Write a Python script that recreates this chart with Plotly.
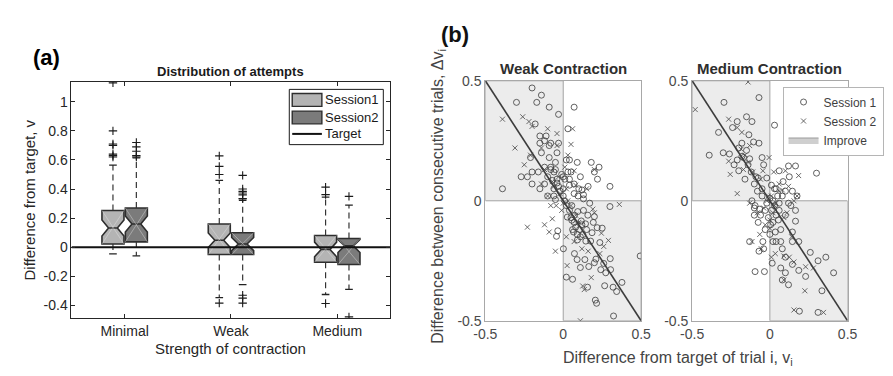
import plotly.graph_objects as go

W, H = 893, 376
FONT = "Liberation Sans, Arial, sans-serif"

# ---------------- Panel (a) data: notched box statistics ----------------
categories = ["Minimal", "Weak", "Medium"]
cat_pos = [1, 2, 3]

s1_q1 = [0.022, -0.050, -0.103]
s1_med = [0.132, 0.048, -0.015]
s1_q3 = [0.253, 0.160, 0.081]
s1_lo = [-0.046, -0.347, -0.325]
s1_hi = [0.565, 0.460, 0.345]
s1_notch = [0.055, 0.050, 0.050]
s1_out = [[0.62, 0.63, 0.64, 0.70, 0.71, 0.80, 1.13],
          [0.50, 0.556, 0.628, -0.384],
          [0.362, 0.413, -0.387]]

s2_q1 = [0.037, -0.050, -0.119]
s2_med = [0.160, 0.022, 0.009]
s2_q3 = [0.270, 0.100, 0.060]
s2_lo = [-0.059, -0.257, -0.290]
s2_hi = [0.615, 0.323, 0.290]
s2_notch = [0.055, 0.045, 0.045]
s2_out = [[0.62, 0.63, 0.66, 0.69, 0.72],
          [0.334, 0.36, 0.373, 0.384, 0.40, 0.494, -0.33, -0.35, -0.384],
          [0.35, -0.479]]

target_value = 0.0
a_yticks = [-0.4, -0.2, 0, 0.2, 0.4, 0.6, 0.8, 1]
a_yticktext = ["-0.4", "-0.2", "0", "0.2", "0.4", "0.6", "0.8", "1"]

# ---------------- Panel (b) data: scatter ----------------
weak_s1_x = [-0.20, -0.30, -0.14, -0.17, -0.09, -0.03, 0.07, -0.18, -0.15, 0.03,
             -0.15, -0.08, -0.03, -0.12, -0.04, -0.09, -0.21, 0.02, 0.04, 0.09,
             0.18, 0.23, 0.20, -0.27, -0.23, -0.20, -0.16, -0.20, -0.08, -0.05,
             -0.01, 0.01, 0.05, 0.11, 0.22, 0.30, 0.16, 0.12, -0.39, -0.15,
             -0.12, -0.07, -0.04, -0.06, 0.00, 0.04, 0.07, 0.095, 0.13, 0.13,
             -0.10, -0.05, 0.17, 0.30, 0.055, 0.093, 0.072, 0.158, 0.20, 0.026,
             0.055, 0.116, 0.143, 0.193, 0.218, 0.25, 0.185, 0.105, 0.126, 0.066,
             0.091, 0.145, 0.176, 0.235, -0.035, -0.043, 0.001, 0.072, 0.089, 0.139,
             0.164, 0.21, 0.20, 0.26, 0.302, 0.241, 0.273, 0.304, 0.11, 0.02,
             0.06, 0.156, 0.266, 0.32, 0.377, 0.343, 0.206, 0.214, 0.323, 0.494,
             -0.08, -0.06, -0.04, -0.03, -0.02, 0.00, 0.01, 0.02, 0.04, 0.05,
             0.07, 0.08, 0.09, 0.11, 0.06, -0.10, -0.12, -0.05, 0.03, 0.00,
             0.07, 0.10, -0.06, 0.12, 0.13, 0.15, 0.04, -0.09, -0.11, -0.14]
weak_s1_y = [0.47, 0.41, 0.44, 0.41, 0.39, 0.36, 0.39, 0.32, 0.27, 0.30,
             0.24, 0.24, 0.24, 0.25, 0.20, 0.18, 0.18, 0.17, 0.17, 0.16,
             0.16, 0.14, 0.12, 0.10, 0.10, 0.12, 0.12, 0.07, 0.13, 0.13,
             0.11, 0.09, 0.12, 0.10, 0.09, 0.06, 0.06, 0.045, 0.05, 0.05,
             0.07, 0.085, 0.074, 0.05, 0.05, 0.065, 0.07, 0.02, 0.025, 0.008,
             0.02, 0.005, -0.01, -0.024, -0.02, -0.045, -0.06, -0.06, -0.066, -0.068,
             -0.081, -0.084, -0.096, -0.09, -0.112, -0.114, -0.133, -0.12, -0.141, -0.13,
             -0.163, -0.168, -0.168, -0.174, -0.125, -0.148, -0.20, -0.22, -0.245, -0.245,
             -0.274, -0.243, -0.258, -0.261, -0.241, -0.287, -0.30, -0.287, -0.278, -0.318,
             -0.327, -0.36, -0.354, -0.36, -0.34, -0.378, -0.414, -0.427, -0.48, -0.23,
             0.14, 0.12, 0.09, 0.06, 0.04, 0.02, 0.00, -0.02, -0.04, -0.07,
             -0.09, -0.11, -0.14, -0.15, -0.12, 0.10, 0.14, 0.16, 0.12, 0.10,
             0.03, 0.05, 0.02, -0.10, -0.04, -0.12, 0.09, 0.23, 0.27, 0.20]

weak_s2_x = [-0.04, -0.39, -0.26, -0.22, -0.20, -0.31, -0.04, 0.05, 0.06, -0.14,
             -0.25, -0.21, 0.20, 0.01, -0.14, -0.07, -0.10, -0.02, 0.08, 0.07,
             0.03, 0.00, -0.045, -0.08, -0.01, -0.07, 0.36, -0.23, -0.12, -0.09,
             -0.05, 0.02, 0.07, 0.19, 0.20, 0.245, 0.29, 0.26, 0.18, 0.125,
             0.135, 0.025, 0.11, 0.235, 0.09,
             -0.03, 0.02, 0.05, -0.06, 0.08, 0.10, 0.12, 0.16, -0.12, 0.15, 0.03, -0.10]
weak_s2_y = [0.28, 0.34, 0.35, 0.33, 0.31, 0.22, 0.23, 0.235, 0.30, 0.22,
             0.15, 0.19, 0.13, 0.14, 0.07, 0.08, 0.02, 0.03, 0.065, 0.125,
             0.00, -0.01, -0.02, -0.02, -0.04, -0.075, -0.015, -0.11, -0.10, -0.13,
             -0.21, -0.15, -0.17, -0.035, -0.05, -0.135, -0.165, -0.19, -0.32, -0.355,
             -0.37, -0.27, -0.50, -0.22, -0.095,
             0.10, 0.05, -0.02, 0.06, -0.06, -0.09, -0.20, -0.21, 0.13, 0.05, 0.19, 0.30]

med_s1_x = [-0.07, -0.295, -0.15, -0.21, -0.115, 0.03, -0.24, -0.33, -0.135, -0.105,
            -0.07, -0.39, -0.30, -0.26, -0.21, -0.18, -0.13, -0.05, -0.04, -0.20,
            -0.16, -0.10, -0.075, -0.02, 0.06, 0.12, 0.165, 0.125, 0.085, 0.30,
            0.01, 0.04, 0.145, 0.175, -0.05, -0.115, -0.095, -0.065, -0.03, 0.06,
            0.135, 0.165, 0.10, 0.055, 0.165, -0.075, -0.10, 0.005, 0.035, 0.145,
            0.186, 0.145, 0.07, 0.02, -0.045, -0.13, -0.07, -0.04, 0.08, 0.10,
            0.26, 0.36, 0.31, 0.015, 0.07, 0.145, 0.186, 0.23, 0.41, -0.095,
            -0.035, 0.10, 0.08, 0.12, 0.335, 0.19, 0.31,
            0.00, 0.02, 0.03, 0.01, -0.02, 0.05, 0.04, -0.01, 0.02, -0.03,
            0.00, 0.06, 0.08, -0.05, -0.08, 0.03, 0.10, 0.12, -0.06, -0.10,
            0.07, 0.04, -0.15, -0.17, -0.20, -0.12, -0.14, -0.09, -0.23, -0.18]
med_s1_y = [0.43, 0.41, 0.35, 0.33, 0.33, 0.315, 0.305, 0.285, 0.275, 0.245,
            0.24, 0.19, 0.20, 0.195, 0.17, 0.185, 0.175, 0.18, 0.15, 0.125,
            0.09, 0.07, 0.095, 0.095, 0.125, 0.145, 0.145, 0.10, 0.08, 0.115,
            0.065, 0.05, 0.04, 0.02, 0.02, 0.00, -0.02, -0.035, -0.04, -0.01,
            -0.02, -0.04, -0.06, -0.08, -0.085, -0.09, -0.06, -0.10, -0.13, -0.13,
            -0.17, -0.17, -0.17, -0.17, -0.17, -0.17, -0.21, -0.20, -0.20, -0.235,
            -0.215, -0.235, -0.25, -0.26, -0.28, -0.265, -0.29, -0.315, -0.30, -0.295,
            -0.295, -0.30, -0.33, -0.35, -0.375, -0.46, -0.465,
            0.01, 0.00, -0.02, -0.04, -0.01, 0.02, -0.06, -0.07, -0.09, -0.12,
            -0.14, -0.04, 0.02, 0.05, 0.04, 0.05, 0.04, -0.01, -0.06, -0.03,
            -0.12, -0.17, 0.21, 0.18, 0.22, 0.12, 0.15, 0.10, 0.15, 0.24]

med_s2_x = [-0.14, -0.48, -0.265, -0.21, -0.18, -0.185, -0.265, -0.255, -0.16, -0.21,
            -0.14, -0.005, -0.045, 0.025, 0.10, 0.185, 0.175, 0.155, -0.13, -0.01,
            0.03, 0.11, -0.03, 0.00, -0.065, -0.115, -0.055, 0.035, 0.01, 0.125,
            0.155, 0.23, 0.28, 0.09, 0.225, 0.155, 0.345, 0.06, 0.08,
            0.01, 0.04, -0.02, 0.02, -0.04, 0.06, -0.08, 0.00, -0.11, -0.17,
            -0.13, 0.09, 0.12, -0.06, 0.14, 0.09]
med_s2_y = [0.495, 0.38, 0.34, 0.305, 0.285, 0.215, 0.165, 0.11, 0.19, 0.03,
            0.16, 0.18, 0.125, 0.12, 0.125, 0.105, 0.02, 0.00, -0.01, 0.02,
            -0.02, -0.05, -0.10, -0.115, -0.14, -0.17, -0.20, -0.22, -0.235, -0.235,
            -0.255, -0.275, -0.28, -0.33, -0.375, -0.455, -0.465, 0.07, 0.045,
            0.02, -0.01, 0.00, -0.05, -0.03, 0.04, -0.05, -0.08, 0.12, 0.13,
            0.23, -0.07, 0.06, 0.09, -0.15, -0.23]

improve_x = [-0.5, 0, 0, -0.5, -0.5, None, 0, 0.5, 0.5, 0, 0]
improve_y = [0, 0, 0.5, 0.5, 0, None, -0.5, -0.5, 0, 0, -0.5]
diag_x = [-0.5, 0.5]
diag_y = [0.5, -0.5]
b_ticks = [-0.5, 0, 0.5]
b_ticktext = ["-0.5", "0", "0.5"]

# ---------------- styles ----------------
OFFSET = 0.11
BOXW = 0.207
CAPW = 0.036
S1_FILL = "#b4b4b4"
S2_FILL = "#7b7b7b"
EDGE = "#2e2e2e"


def px_x(px):
    return px / W


def px_y(py):
    return 1 - py / H


fig = go.Figure()


def add_session(name, sign, q1, med, q3, lo, hi, notch, outs, fill):
    pos = [c + sign * OFFSET for c in cat_pos]
    fig.add_trace(go.Box(
        x=pos, q1=q1, median=med, q3=q3, lowerfence=q1, upperfence=q3,
        notched=True, notchspan=notch, notchwidth=0.3, width=BOXW,
        fillcolor=fill, line=dict(color=EDGE, width=1.6), whiskerwidth=0,
        boxpoints=False, name=name, showlegend=False, hoverinfo="skip",
        xaxis="x", yaxis="y"))
    dx, dy = [], []
    for p, a, b in zip(pos, q1, q3):
        dx += [p - BOXW / 2, p + BOXW / 2, None, p - BOXW / 2, p + BOXW / 2, None]
        dy += [a, b, None, b, a, None]
    fig.add_trace(go.Scatter(x=dx, y=dy, mode="lines",
                             line=dict(color="rgba(235,235,235,0.5)", width=0.8),
                             showlegend=False, hoverinfo="skip", xaxis="x", yaxis="y"))
    wx, wy = [], []
    for p, a, b, l, h in zip(pos, q1, q3, lo, hi):
        wx += [p, p, None, p, p, None]
        wy += [b, h, None, a, l, None]
    fig.add_trace(go.Scatter(x=wx, y=wy, mode="lines",
                             line=dict(color="#333333", width=1.2, dash="6px,4px"),
                             showlegend=False, hoverinfo="skip", xaxis="x", yaxis="y"))
    cx, cy = [], []
    for p, l, h in zip(pos, lo, hi):
        cx += [p - CAPW, p + CAPW, None, p - CAPW, p + CAPW, None]
        cy += [h, h, None, l, l, None]
    fig.add_trace(go.Scatter(x=cx, y=cy, mode="lines",
                             line=dict(color="#222222", width=1.3),
                             showlegend=False, hoverinfo="skip", xaxis="x", yaxis="y"))
    ox, oy = [], []
    for p, vals in zip(pos, outs):
        ox += [p] * len(vals)
        oy += vals
    fig.add_trace(go.Scatter(x=ox, y=oy, mode="markers",
                             marker=dict(symbol="cross-thin-open", size=6, color="#1a1a1a",
                                         line=dict(color="#1a1a1a", width=1.1)),
                             showlegend=False, hoverinfo="skip", xaxis="x", yaxis="y"))


add_session("Session1", -1, s1_q1, s1_med, s1_q3, s1_lo, s1_hi, s1_notch, s1_out, S1_FILL)
add_session("Session2", 1, s2_q1, s2_med, s2_q3, s2_lo, s2_hi, s2_notch, s2_out, S2_FILL)

fig.add_trace(go.Scatter(x=[0.5, 3.5], y=[target_value, target_value], mode="lines",
                         line=dict(color="#111111", width=2.2), name="Target",
                         showlegend=False, hoverinfo="skip", xaxis="x", yaxis="y"))

# ---------------- Panel (b) ----------------
CIRC = "rgba(60,60,60,0.8)"
CROSS = "rgba(80,80,80,0.85)"
for i, (xa, ya, s1x, s1y, s2x, s2y) in enumerate([
        ("x2", "y2", weak_s1_x, weak_s1_y, weak_s2_x, weak_s2_y),
        ("x3", "y3", med_s1_x, med_s1_y, med_s2_x, med_s2_y)]):
    show = (i == 1)
    fig.add_trace(go.Scatter(x=improve_x, y=improve_y, mode="lines", fill="toself",
                             fillcolor="#ececec", line=dict(color="#a3a3a3", width=1),
                             name="Improve", showlegend=False,
                             hoverinfo="skip", xaxis=xa, yaxis=ya))
    fig.add_trace(go.Scatter(x=s1x, y=s1y, mode="markers", name="Session 1",
                             marker=dict(symbol="circle-open", size=6, color=CIRC,
                                         line=dict(color=CIRC, width=1)),
                             showlegend=show, legendrank=1, hoverinfo="skip",
                             xaxis=xa, yaxis=ya))
    fig.add_trace(go.Scatter(x=s2x, y=s2y, mode="markers", name="Session 2",
                             marker=dict(symbol="x-thin-open", size=5, color=CROSS,
                                         line=dict(color=CROSS, width=1)),
                             showlegend=show, legendrank=2, hoverinfo="skip",
                             xaxis=xa, yaxis=ya))
    fig.add_trace(go.Scatter(x=diag_x, y=diag_y, mode="lines",
                             line=dict(color="#3c3c3c", width=1.6),
                             showlegend=False, hoverinfo="skip", xaxis=xa, yaxis=ya))

fig.add_trace(go.Scatter(x=[None], y=[None], mode="lines", fill="toself",
                         fillcolor="#cfcfcf", line=dict(color="#9a9a9a", width=1),
                         name="Improve", showlegend=True, legendrank=3,
                         hoverinfo="skip", xaxis="x3", yaxis="y3"))

# ---------------- Layout ----------------
a_x0, a_x1, a_y0, a_y1 = 61, 388, 77, 324
w_x0, w_x1, m_x0, m_x1, b_y0, b_y1 = 485.3, 645, 697.3, 856.7, 76, 326.7

axis_a = dict(showgrid=False, zeroline=False, showline=True, linecolor="#262626",
              linewidth=1, mirror="ticks", ticks="inside", ticklen=4, tickcolor="#262626",
              tickfont=dict(family=FONT, size=14, color="#262626"))
axis_b = dict(showgrid=False, zeroline=False, showline=True, linecolor="#a8a8a8",
              linewidth=1, mirror=True, ticks="",
              tickfont=dict(family=FONT, size=14, color="#4a4a4a"))

fig.update_layout(
    width=W, height=H, margin=dict(l=0, r=0, t=0, b=0),
    paper_bgcolor="white", plot_bgcolor="white",
    xaxis=dict(domain=[px_x(a_x0), px_x(a_x1)], range=[0.5, 3.5],
               tickvals=cat_pos, ticktext=categories, anchor="y", **axis_a),
    yaxis=dict(domain=[px_y(a_y1), px_y(a_y0)], range=[-0.488, 1.138],
               tickvals=a_yticks, ticktext=a_yticktext, anchor="x", **axis_a),
    xaxis2=dict(domain=[px_x(w_x0), px_x(w_x1)], range=[-0.5, 0.5],
                tickvals=b_ticks, ticktext=b_ticktext, anchor="y2", **axis_b),
    yaxis2=dict(domain=[px_y(b_y1), px_y(b_y0)], range=[-0.5, 0.5],
                tickvals=b_ticks, ticktext=b_ticktext, anchor="x2", **axis_b),
    xaxis3=dict(domain=[px_x(m_x0), px_x(m_x1)], range=[-0.5, 0.5],
                tickvals=b_ticks, ticktext=b_ticktext, anchor="y3", **axis_b),
    yaxis3=dict(domain=[px_y(b_y1), px_y(b_y0)], range=[-0.5, 0.5],
                tickvals=b_ticks, ticktext=b_ticktext, anchor="x3", **axis_b),
    boxmode="overlay",
    showlegend=True,
    legend=dict(x=px_x(790), y=px_y(82), xanchor="left", yanchor="top",
                bgcolor="white", bordercolor="#b5b5b5", borderwidth=1,
                font=dict(family=FONT, size=12, color="#3e3e3e"),
                tracegroupgap=0, itemwidth=30, traceorder="normal"),
)

shapes = [
    dict(type="rect", xref="paper", yref="paper", x0=px_x(284.3), x1=px_x(380.7),
         y0=px_y(142.7), y1=px_y(85), line=dict(color="#1a1a1a", width=1),
         fillcolor="white", layer="above"),
    dict(type="rect", xref="paper", yref="paper", x0=px_x(287.3), x1=px_x(317.7),
         y0=px_y(102.7), y1=px_y(89.3), line=dict(color=EDGE, width=1.4),
         fillcolor=S1_FILL, layer="above"),
    dict(type="rect", xref="paper", yref="paper", x0=px_x(287.3), x1=px_x(317.7),
         y0=px_y(121), y1=px_y(107.7), line=dict(color=EDGE, width=1.4),
         fillcolor=S2_FILL, layer="above"),
    dict(type="line", xref="paper", yref="paper", x0=px_x(287.3), x1=px_x(317.7),
         y0=px_y(131.5), y1=px_y(131.5), line=dict(color="#111111", width=2),
         layer="above"),
]
fig.update_layout(shapes=shapes)


def ann(x, y, text, size, color="#1a1a1a", bold=False, angle=0, xanchor="center"):
    if bold:
        text = "<b>" + text + "</b>"
    fig.add_annotation(x=px_x(x), y=px_y(y), xref="paper", yref="paper", text=text,
                       showarrow=False, xanchor=xanchor, yanchor="middle",
                       textangle=angle, font=dict(family=FONT, size=size, color=color))


ann(319.3, 96, "Session1", 13, xanchor="left")
ann(319.3, 114.4, "Session2", 13, xanchor="left")
ann(319.3, 131.5, "Target", 13, xanchor="left")

ann(35, 52, "(a)", 22, color="#000000", bold=True)
ann(454, 28, "(b)", 22, color="#111111", bold=True)
ann(224.5, 66, "Distribution of attempts", 13, bold=True)
ann(224.5, 356, "Strength of contraction", 15, color="#262626")
ann(18, 200.5, "Difference from target, v", 15, color="#262626", angle=-90)

ann(565, 63, "Weak Contraction", 15, color="#2e2e2e", bold=True)
ann(777, 63, "Medium Contraction", 15, color="#2e2e2e", bold=True)
ann(437, 197, "Difference between consecutive trials, Δv<sub>i</sub>", 16,
    color="#444444", angle=-90)
ann(683, 366, "Difference from target of trial i, v<sub>i</sub>", 16, color="#444444")

fig.write_html("out.html")
